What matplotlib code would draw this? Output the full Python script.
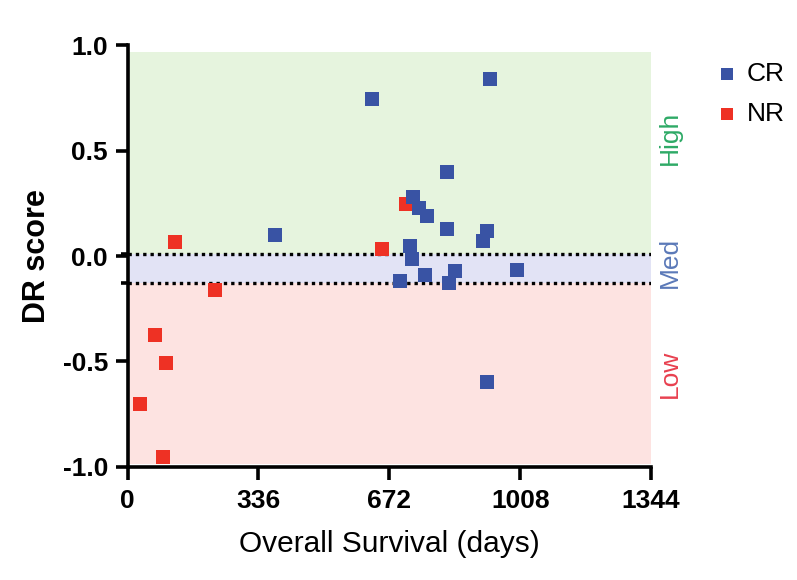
import matplotlib
matplotlib.use("Agg")
import matplotlib.pyplot as plt
from matplotlib.ticker import FixedLocator

# Data
cr_days = [627, 930, 378, 821, 734, 747, 768, 820, 922, 912, 725, 730, 764, 700, 841, 824, 999, 922]
cr_score = [0.746, 0.841, 0.098, 0.397, 0.278, 0.23, 0.19, 0.127, 0.119, 0.071, 0.048, -0.016,
            -0.088, -0.119, -0.071, -0.127, -0.067, -0.595]
nr_days = [121, 653, 716, 224, 70, 98, 32, 91]
nr_score = [0.067, 0.032, 0.246, -0.159, -0.373, -0.505, -0.703, -0.952]

x_ticks = [0, 336, 672, 1008, 1344]
y_ticks = [-1.0, -0.5, 0.0, 0.5, 1.0]
y_tick_labels = ["-1.0", "-0.5", "0.0", "0.5", "1.0"]
cut_high = 0.01
cut_low = -0.13
group_names = ["CR", "NR"]
zone_names = ["High", "Med", "Low"]
zone_label_y = [0.56, -0.03, -0.56]
zone_colors = ["#2eaa66", "#5b79b8", "#e8404f"]

plt.rcParams['font.family'] = ['Liberation Sans', 'DejaVu Sans']

fig = plt.figure(figsize=(7.97, 5.80), dpi=100)
ax = fig.add_axes([0.160, 0.195, 0.657, 0.727])

ax.set_xlim(0, 1344)
ax.set_ylim(-1.0, 1.0)

# Zones
ax.axhspan(cut_high, 0.97, color="#e6f4de", zorder=0, lw=0)
ax.axhspan(cut_low, cut_high, color="#e2e3f5", zorder=0, lw=0)
ax.axhspan(-0.985, cut_low, color="#fde3e1", zorder=0, lw=0)

# Dotted cutoffs
for c in (cut_high, cut_low):
    ax.axhline(c, color="black", linestyle=(0, (1, 1.2)), linewidth=2.4, zorder=1)

ax.scatter(nr_days, nr_score, marker="s", s=110, color="#ee3124", zorder=3,
           linewidths=0, label=group_names[1], clip_on=False)
ax.scatter(cr_days, cr_score, marker="s", s=110, color="#3953a4", zorder=4,
           linewidths=0, label=group_names[0], clip_on=False)

# Spines
for s in ("top", "right"):
    ax.spines[s].set_visible(False)
for s in ("left", "bottom"):
    ax.spines[s].set_linewidth(2.6)

ax.set_xticks(x_ticks)
ax.set_xticklabels([str(t) for t in x_ticks])
ax.set_yticks(y_ticks)
ax.set_yticklabels(y_tick_labels)
ax.yaxis.set_minor_locator(FixedLocator([cut_high, cut_low]))
ax.tick_params(axis="both", which="major", direction="out", length=9, width=2.6,
               labelsize=19, pad=5)
ax.tick_params(axis="x", which="major", pad=7)
ax.tick_params(axis="y", which="minor", direction="out", length=5, width=2.6)
for lab in ax.get_xticklabels() + ax.get_yticklabels():
    lab.set_fontweight("bold")

ax.set_xlabel("Overall Survival (days)", fontsize=21.5, labelpad=12)
ax.set_ylabel("DR score", fontsize=22, fontweight="bold", labelpad=8)

# Zone labels
ytr = ax.get_yaxis_transform()
for name, yy, col in zip(zone_names, zone_label_y, zone_colors):
    ax.text(1.035, yy, name, transform=ytr, rotation=90, ha="center",
            va="center", fontsize=19, color=col)

# Legend
handles, labels = ax.get_legend_handles_labels()
order = [1, 0]
leg = ax.legend([handles[i] for i in order], [labels[i] for i in order],
                loc="upper left", bbox_to_anchor=(1.105, 0.985), frameon=False,
                fontsize=19, handlelength=0.8, handletextpad=0.35, labelspacing=0.6,
                markerscale=0.8, borderaxespad=0)

fig.savefig("out.png", dpi=100)
